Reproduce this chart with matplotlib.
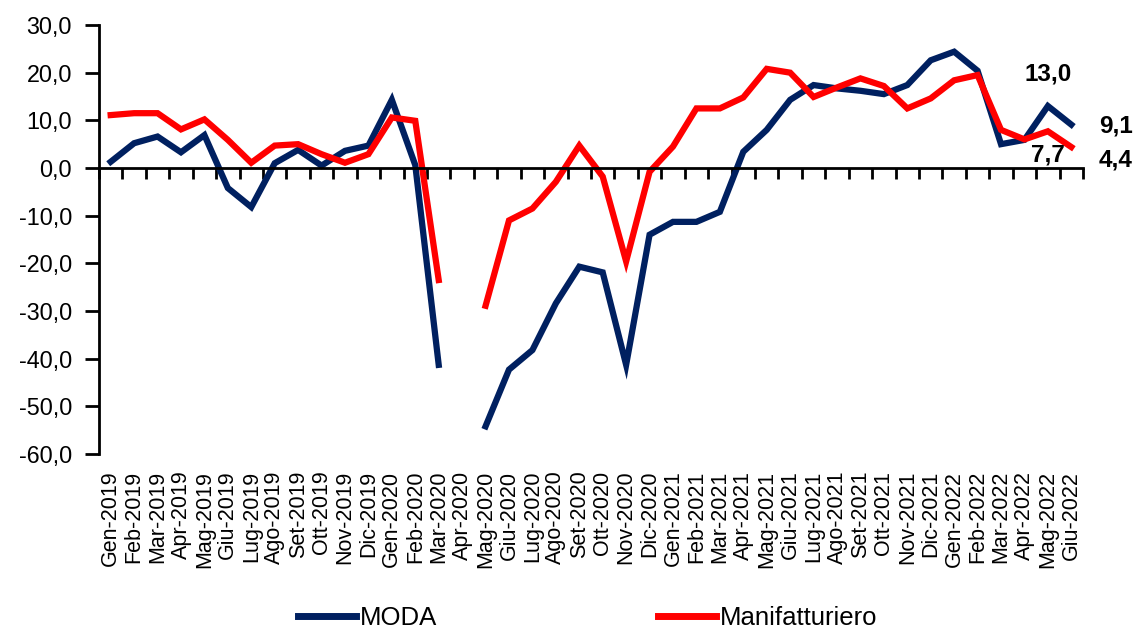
import numpy as np
import matplotlib
matplotlib.use("Agg")
import matplotlib.pyplot as plt
from matplotlib.ticker import FuncFormatter

months = ["Gen", "Feb", "Mar", "Apr", "Mag", "Giu", "Lug", "Ago", "Set", "Ott", "Nov", "Dic"]
categories = [f"{m}-{y}" for y in (2019, 2020, 2021) for m in months] + \
             [f"{m}-2022" for m in months[:6]]

moda = [1.3, 5.2, 6.6, 3.3, 6.9, -4.2, -8.2, 1.0, 3.8, 0.5, 3.6, 4.7,
        14.3, 0.6, -41.3, np.nan, -54.2, -42.3, -38.2, -28.4, -20.7, -21.9, -41.3, -14.0,
        -11.3, -11.3, -9.2, 3.4, 8.0, 14.3, 17.4, 16.7, 16.2, 15.5, 17.4, 22.6,
        24.4, 20.4, 5.0, 5.9, 13.0, 9.1]
manifatturiero = [11.1, 11.5, 11.5, 8.1, 10.2, 5.9, 1.1, 4.7, 5.0, 2.9, 1.1, 2.9,
                  10.6, 9.9, -23.5, np.nan, -28.9, -11.0, -8.5, -2.9, 4.7, -1.8, -19.6, -0.8,
                  4.5, 12.5, 12.5, 14.8, 20.8, 20.0, 14.9, 16.9, 18.8, 17.2, 12.5, 14.6,
                  18.4, 19.5, 8.0, 6.0, 7.7, 4.4]
series_names = ["MODA", "Manifatturiero"]
colors = ["#002060", "#FF0000"]
yticks = [30, 20, 10, 0, -10, -20, -30, -40, -50, -60]

regular = ["Liberation Sans", "DejaVu Sans"]

fig = plt.figure(figsize=(11.35, 6.33), dpi=100)
ax = fig.add_axes([0.0872, 0.2828, 0.8670, 0.6777])

x = np.arange(len(categories))
ax.plot(x, moda, color=colors[0], lw=4.5, solid_joinstyle="miter", label=series_names[0])
ax.plot(x, manifatturiero, color=colors[1], lw=4.5, solid_joinstyle="miter", label=series_names[1])

ax.set_xlim(-0.5, len(categories) - 0.5)
ax.set_ylim(-60, 30)

# y axis
ax.set_yticks(yticks)
ax.yaxis.set_major_formatter(FuncFormatter(lambda v, p: f"{v:.1f}".replace(".", ",")))
ax.tick_params(axis="y", direction="out", length=10, width=2, pad=9.5, labelsize=16.8)
for lab in ax.get_yticklabels():
    lab.set_family(regular)
ax.spines["left"].set_linewidth(2)
ax.spines["top"].set_visible(False)
ax.spines["right"].set_visible(False)

# zero line with boundary ticks
ax.spines["bottom"].set_position(("data", 0))
ax.spines["bottom"].set_linewidth(2)
ax.set_xticks(np.arange(len(categories) + 1) - 0.5)
ax.tick_params(axis="x", direction="out", length=8, width=2, labelbottom=False)

# category labels at bottom
sec = ax.secondary_xaxis("bottom")
sec.spines["bottom"].set_visible(False)
sec.set_xticks(x)
sec.set_xticklabels(categories, rotation=90, fontsize=15.5, family=regular)
sec.tick_params(axis="x", length=0, pad=12)

# data labels for the last two months
def fmt(v):
    return f"{v:.1f}".replace(".", ",")

lab_kw = dict(textcoords="offset points", ha="center", va="center",
              fontsize=17.5, fontweight="bold", family=regular)
ax.annotate(fmt(moda[-2]), (x[-2], moda[-2]), xytext=(0, 23), **lab_kw)
ax.annotate(fmt(moda[-1]), (x[-1], moda[-1]), xytext=(32, -1), **lab_kw)
ax.annotate(fmt(manifatturiero[-2]), (x[-2], manifatturiero[-2]), xytext=(0, -17), **lab_kw)
ax.annotate(fmt(manifatturiero[-1]), (x[-1], manifatturiero[-1]), xytext=(32, -9), **lab_kw)

leg = fig.legend(loc="center", bbox_to_anchor=(0.5176, 0.0235), ncol=2, frameon=False,
                 handlelength=2.25, handletextpad=0.15, columnspacing=8.6, borderpad=0,
                 prop={"family": regular, "size": 18.5})
for h in leg.legend_handles:
    h.set_linewidth(5)

fig.savefig("out.png", dpi=100)
